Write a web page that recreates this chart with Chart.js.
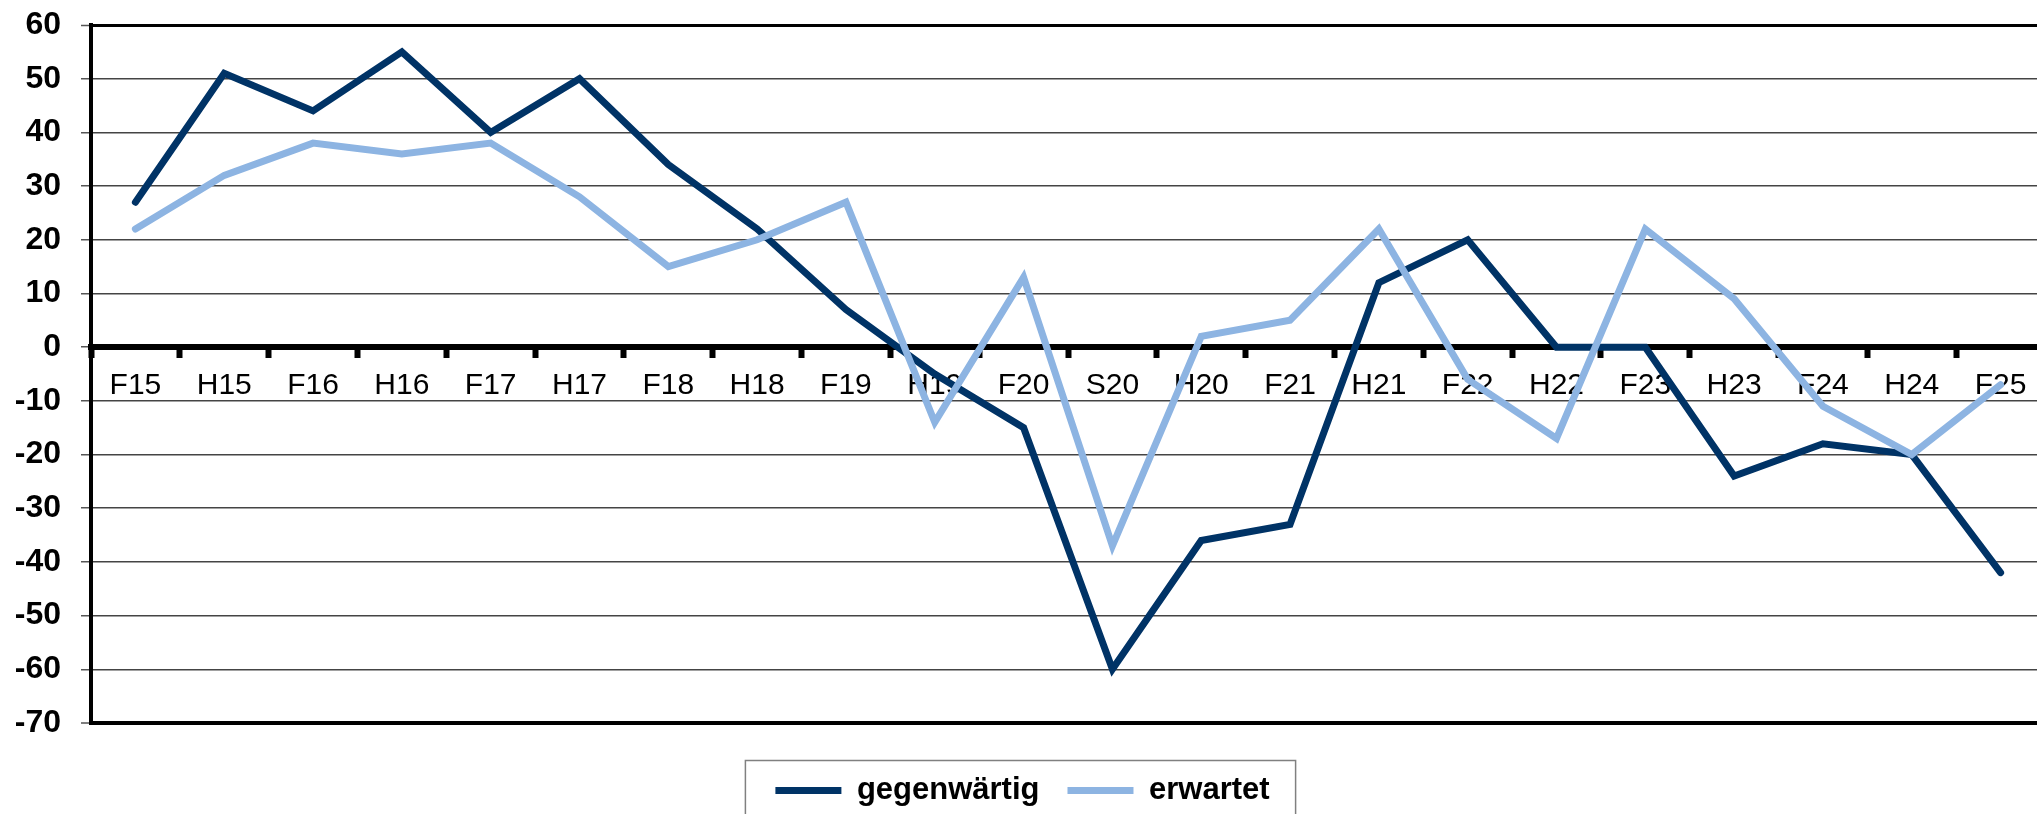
<!DOCTYPE html>
<html>
<head>
<meta charset="utf-8">
<script src="https://cdn.jsdelivr.net/npm/chart.js@4"></script>
<style>
  html, body { margin: 0; padding: 0; background: #fff; overflow: hidden; }
  canvas { display: block; }
</style>
</head>
<body>
<canvas id="umfrage" width="2045" height="814"></canvas>
<script>
const labels = ['F15', 'H15', 'F16', 'H16', 'F17', 'H17', 'F18', 'H18', 'F19', 'H19', 'F20',
    'S20', 'H20', 'F21', 'H21', 'F22', 'H22', 'F23', 'H23', 'F24', 'H24', 'F25'];
const gegenwaertig = [27, 51, 44, 55, 40, 50, 34, 22, 7, -5, -15,
    -60, -36, -33, 12, 20, 0, 0, -24, -18, -20, -42];
const erwartet = [22, 32, 38, 36, 38, 28, 15, 20, 27, -14, 13,
    -37, 2, 5, 22, -6, -17, 22, 9, -11, -20, -7];
const yMin = -70;
const yMax = 60;
const yStep = 10;

const font = "'Liberation Sans', Arial, sans-serif";

// Rahmen um die Legende
const legendFrame = {
    id: 'legendFrame',
    afterDraw(chart) {
        const boxes = chart.legend.legendHitBoxes;
        if (!boxes || !boxes.length) return;
        const left = Math.min(...boxes.map(b => b.left)) - 30;
        const right = Math.max(...boxes.map(b => b.left + b.width)) + 26;
        const mid = boxes[0].top + boxes[0].height / 2;
        const ctx = chart.ctx;
        ctx.save();
        ctx.strokeStyle = '#808080';
        ctx.lineWidth = 1.5;
        ctx.strokeRect(left, mid - 30, right - left, 80);
        ctx.restore();
    }
};

new Chart(document.getElementById('umfrage'), {
    type: 'line',
    data: {
        labels: labels,
        datasets: [{
            label: 'gegenwärtig',
            data: gegenwaertig,
            borderColor: '#003366',
            backgroundColor: '#003366',
            borderWidth: 7,
            borderCapStyle: 'round',
            pointRadius: 0,
            tension: 0,
            order: 2
        }, {
            label: 'erwartet',
            data: erwartet,
            borderColor: '#8DB4E2',
            backgroundColor: '#8DB4E2',
            borderWidth: 7,
            borderCapStyle: 'round',
            pointRadius: 0,
            tension: 0,
            order: 1
        }]
    },
    options: {
        responsive: false,
        animation: false,
        layout: {
            padding: { top: 25, left: 0, right: 0, bottom: -2 }
        },
        scales: {
            x: {
                position: { y: 0 },
                offset: true,
                grid: {
                    offset: true,
                    drawOnChartArea: false,
                    tickLength: 8,
                    tickWidth: 6,
                    tickColor: '#000'
                },
                border: { color: '#000', width: 6 },
                ticks: {
                    color: '#000',
                    font: { family: font, size: 30 },
                    padding: 13,
                    autoSkip: false,
                    maxRotation: 0
                }
            },
            y: {
                min: yMin,
                max: yMax,
                afterFit: s => {
                    s.width = 91;
                    s.paddingTop = 0;
                    s.paddingBottom = 0;
                },
                ticks: {
                    stepSize: yStep,
                    color: '#000',
                    font: { family: font, size: 32, weight: 'bold' },
                    padding: 20
                },
                grid: {
                    color: c => (c.tick && (c.tick.value === yMax || c.tick.value === yMin)) ? '#000' : '#444',
                    lineWidth: c => {
                        if (!c.tick) return 1.5;
                        if (c.tick.value === yMax) return 3;
                        if (c.tick.value === yMin) return 4;
                        return 1.5;
                    },
                    tickLength: 10,
                    tickColor: '#555',
                    tickWidth: 1.5
                },
                border: { color: '#000', width: 4 }
            }
        },
        plugins: {
            legend: {
                position: 'bottom',
                title: {
                    display: true,
                    text: ' ',
                    font: { family: font, size: 10 },
                    padding: { top: 12, bottom: 0 }
                },
                labels: {
                    usePointStyle: true,
                    pointStyle: 'line',
                    pointStyleWidth: 66,
                    padding: 28,
                    color: '#000',
                    font: { family: font, size: 31, weight: 'bold' },
                    sort: (a, b) => a.datasetIndex - b.datasetIndex
                }
            },
            tooltip: { enabled: false }
        }
    },
    plugins: [legendFrame]
});
</script>
</body>
</html>
